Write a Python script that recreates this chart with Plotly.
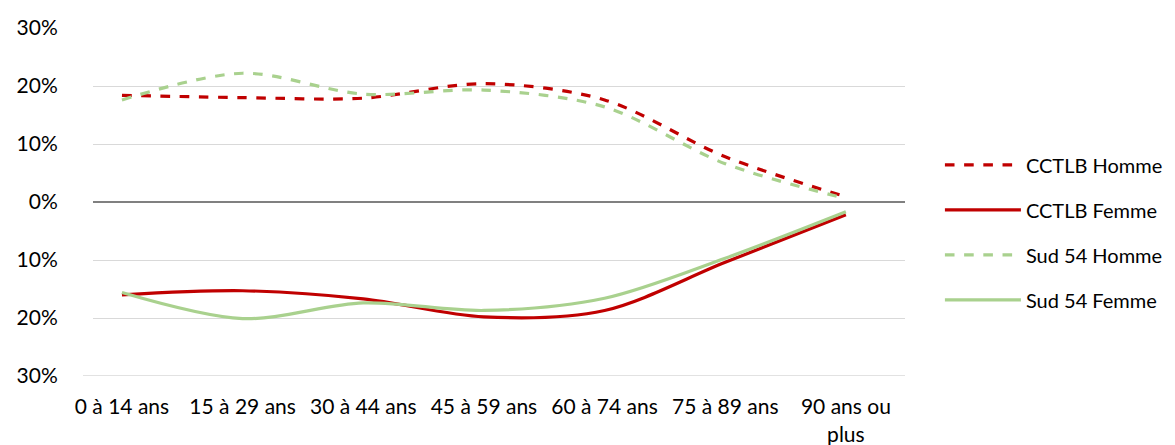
import plotly.graph_objects as go

categories = ["0 à 14 ans", "15 à 29 ans", "30 à 44 ans", "45 à 59 ans",
              "60 à 74 ans", "75 à 89 ans", "90 ans ou<br>plus"]
cctlb_homme = [18.4, 18.0, 17.9, 20.4, 17.6, 7.8, 0.9]
cctlb_femme = [-16.0, -15.3, -16.7, -19.8, -18.7, -10.4, -2.2]
sud54_homme = [17.6, 22.2, 18.6, 19.3, 16.4, 6.6, 0.6]
sud54_femme = [-15.6, -20.1, -17.4, -18.7, -16.6, -9.7, -1.7]
ytick_vals = [-30, -20, -10, 0, 10, 20, 30]
ytick_text = ["30%", "20%", "10%", "0%", "10%", "20%", "30%"]

RED = "#C00000"
GREEN = "#A9D18E"
FONT = "Lato"
FS = 21

fig = go.Figure()
series = [
    ("CCTLB Homme", cctlb_homme, RED, "dash"),
    ("CCTLB Femme", cctlb_femme, RED, "solid"),
    ("Sud 54 Homme", sud54_homme, GREEN, "dash"),
    ("Sud 54 Femme", sud54_femme, GREEN, "solid"),
]
for name, vals, col, dash in series:
    fig.add_trace(go.Scatter(
        x=list(range(len(categories))), y=vals, name=name, mode="lines",
        line=dict(color=col, width=3.2, dash=dash, shape="spline", smoothing=0.9),
        legendgroup=name,
    ))

# extended bottom gridline like the reference
fig.add_shape(type="line", xref="paper", yref="y", x0=-10/812, x1=1, y0=-30, y1=-30,
              line=dict(color="#D9D9D9", width=1.3), layer="below")

fig.update_layout(
    width=1167, height=437,
    margin=dict(l=85, r=270, t=20, b=69, autoexpand=False),
    paper_bgcolor="white", plot_bgcolor="white",
    font=dict(family=FONT, size=FS, color="#000000"),
    showlegend=True,
    legend=dict(x=1.043, y=0.413, xanchor="left", yanchor="middle",
                font=dict(family=FONT, size=20), itemwidth=76,
                tracegroupgap=16, bgcolor="rgba(0,0,0,0)"),
    xaxis=dict(
        range=[-0.24, 6.49], tickmode="array",
        tickvals=list(range(len(categories))), ticktext=categories,
        showgrid=False, zeroline=False, showline=False, automargin=False,
        ticks="outside", ticklen=12, tickcolor="rgba(0,0,0,0)",
        tickfont=dict(family=FONT, size=FS),
    ),
    yaxis=dict(
        range=[-30, 30], tickmode="array", tickvals=ytick_vals, ticktext=ytick_text,
        showgrid=True, gridcolor="#D9D9D9", gridwidth=1.3,
        zeroline=True, zerolinecolor="#808080", zerolinewidth=1.8,
        showline=False, automargin=False, ticks="outside", ticklen=30,
        tickcolor="rgba(0,0,0,0)",
        tickfont=dict(family=FONT, size=FS),
    ),
)

fig.write_html("out.html")
